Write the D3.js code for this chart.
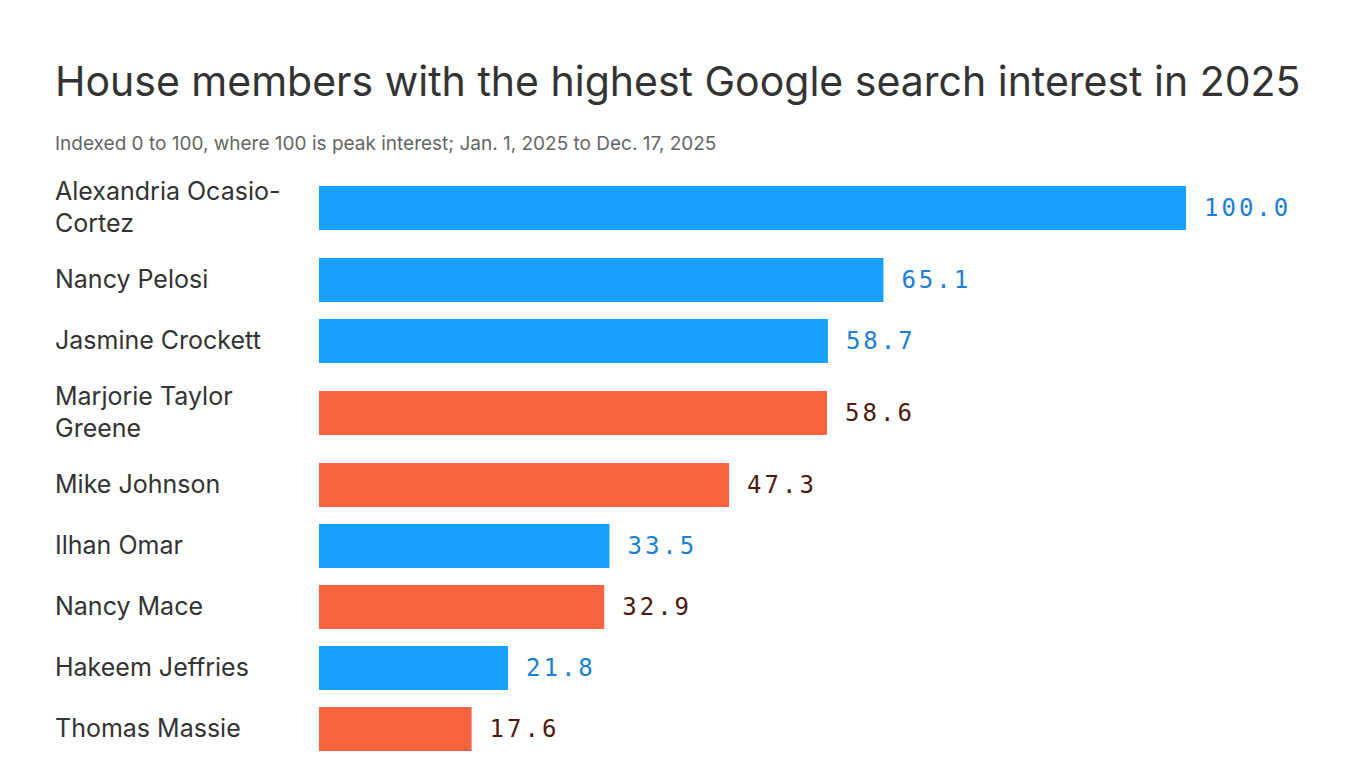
<!DOCTYPE html>
<html>
<head>
<meta charset="utf-8">
<script src="https://cdn.jsdelivr.net/npm/d3@7"></script>
<style>
  body { margin: 0; background: #fff; }
  svg { display: block; }
  .title { font-family: Inter, "Noto Sans", sans-serif; font-size: 41px; fill: #333; }
  .sub { font-family: Inter, "Noto Sans", sans-serif; font-size: 19px; fill: #666; }
  .label { font-family: Inter, "Noto Sans", sans-serif; font-size: 25px; fill: #333; }
  .value { font-family: "DejaVu Sans Mono", monospace; font-size: 24px; letter-spacing: 3px; }
</style>
</head>
<body>
<div id="canvas"></div>
<script>
// data
var names = ['Alexandria Ocasio-Cortez', 'Nancy Pelosi', 'Jasmine Crockett', 'Marjorie Taylor Greene',
             'Mike Johnson', 'Ilhan Omar', 'Nancy Mace', 'Hakeem Jeffries', 'Thomas Massie'];
var values = [100.0, 65.1, 58.7, 58.6, 47.3, 33.5, 32.9, 21.8, 17.6];
var party = ['D', 'D', 'D', 'R', 'R', 'D', 'R', 'D', 'R'];

var W = 1366, H = 768;
var m = {l: 55, barLeft: 319, barRight: 1186};

var svg = d3.select('#canvas').append('svg')
    .attr('width', W).attr('height', H);

svg.append('text').attr('class', 'title')
    .attr('x', m.l).attr('y', 96)
    .text('House members with the highest Google search interest in 2025');

svg.append('text').attr('class', 'sub')
    .attr('x', m.l).attr('y', 150)
    .text('Indexed 0 to 100, where 100 is peak interest; Jan. 1, 2025 to Dec. 17, 2025');

var barColor = d3.scaleOrdinal().domain(['D', 'R']).range(['#17a1ff', '#f7643f']);
var textColor = d3.scaleOrdinal().domain(['D', 'R']).range(['#1a80d9', '#4f1a10']);

var x = d3.scaleLinear().domain([0, 100]).range([m.barLeft, m.barRight]);

// wrap labels first, so row heights can follow the number of lines
var measure = svg.append('text').attr('class', 'label');
function wrap(str, maxW) {
    var tokens = str.match(/[^\s-]+-?\s*/g), lines = [], cur = '';
    tokens.forEach(function(t){
        var test = cur + t;
        measure.text(test.trim());
        if (cur && measure.node().getComputedTextLength() > maxW) {
            lines.push(cur.trim()); cur = t;
        } else cur = test;
    });
    lines.push(cur.trim());
    return lines;
}
var labelLines = names.map(function(n){ return wrap(n, 245); });
measure.remove();

// row heights: 61px for one line, 22px more for each extra line
var centers = [], cursor = 166.5;
labelLines.forEach(function(l){
    var rh = 61 + (l.length - 1) * 22;
    centers.push(cursor + rh / 2);
    cursor += rh;
});
var y = d3.scaleOrdinal().domain(names).range(centers);
var barH = 44, lineH = 32;

var rows = svg.selectAll('.row')
    .data(names.map(function(n, i){ return {name: n, value: values[i], party: party[i], lines: labelLines[i]}; }))
    .enter().append('g').attr('class', 'row');

rows.append('rect')
    .attr('x', x(0))
    .attr('y', function(d){ return y(d.name) - barH / 2; })
    .attr('width', function(d){ return x(d.value) - x(0); })
    .attr('height', barH)
    .attr('fill', function(d){ return barColor(d.party); });

rows.append('text').attr('class', 'value')
    .attr('x', function(d){ return x(d.value) + 18; })
    .attr('y', function(d){ return y(d.name); })
    .attr('dy', '0.32em')
    .attr('fill', function(d){ return textColor(d.party); })
    .text(function(d){ return d.value.toFixed(1); });

rows.append('text').attr('class', 'label')
    .attr('x', m.l)
    .attr('y', function(d){ return y(d.name) - (d.lines.length - 1) * lineH / 2; })
    .selectAll('tspan')
    .data(function(d){ return d.lines; })
    .enter().append('tspan')
    .attr('x', m.l)
    .attr('dy', function(d, i){ return i === 0 ? '0.3em' : lineH; })
    .text(function(d){ return d; });
</script>
</body>
</html>
